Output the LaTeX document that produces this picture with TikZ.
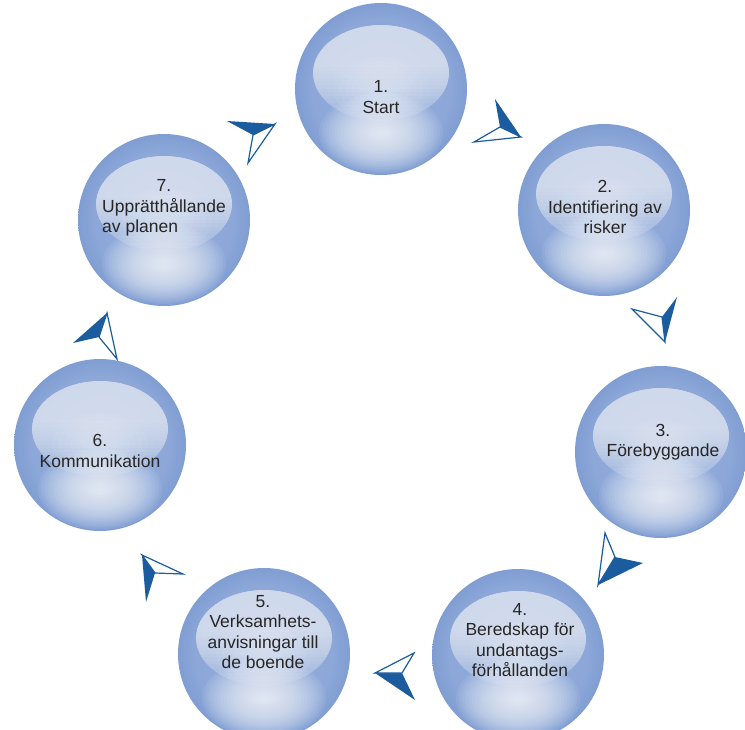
\documentclass[tikz,border=0pt]{standalone}
\usepackage{fontspec}
\setmainfont{Liberation Sans}
\definecolor{arrowblue}{HTML}{1B5C9E}
\definecolor{sEdge}{HTML}{4569AC}
\definecolor{sOut}{HTML}{4C73B6}
\definecolor{sMid2}{HTML}{5A7FC0}
\definecolor{sMid}{HTML}{7090CB}
\definecolor{sIn}{HTML}{8CA7D8}
\definecolor{sCore}{HTML}{97B0DD}
\definecolor{txt}{HTML}{262626}
\pgfdeclareradialshading{spherebase}{\pgfpoint{0bp}{0bp}}{color(0bp)=(sCore); color(20bp)=(sIn); color(32bp)=(sMid); color(42bp)=(sMid2); color(48bp)=(sOut); color(50bp)=(sEdge)}
\newcommand\arrowmark[4]{%
  \fill[arrowblue] #1 -- #2 -- #3 -- cycle;
  \draw[arrowblue, line width=1.2pt, line join=miter, fill=white] #1 -- #3 -- #4 -- cycle;}
\begin{document}
\begin{tikzpicture}[x=1pt, y=-1pt,
  sphere/.style={circle, minimum size=172pt, inner sep=0pt, shading=spherebase,
    path picture={
      \begin{scope}[shift={(path picture bounding box.center)}]
        \foreach \k in {1,...,20} {\fill[white, opacity=0.07] (0,44) ellipse [x radius={3.1*\k}, y radius={2*\k}];}
        \begin{scope}
          \clip (0,-16) ellipse [x radius=68, y radius=48];
          \foreach \k in {0,...,15} {\fill[white, opacity=0.058] (-70,-70) rectangle (70,{-22+\k*3.6});}
        \end{scope}
        \begin{scope}
          \clip (0,-16) ellipse [x radius=68, y radius=48];
          \foreach \k in {1,...,8} {\fill[white, opacity=0.05] (0,0) ellipse [x radius={6*\k}, y radius={4*\k}];}
        \end{scope}
      \end{scope}}},
  lbl/.style={align=center, text=txt, font=\fontsize{17.5}{20.5}\selectfont, inner sep=0pt}]
\fill[white] (0,0) rectangle (745,729);
\useasboundingbox (0,0) rectangle (745,729);

\node[sphere] (s1) at (381,89) {};
\node[sphere] (s2) at (604,210) {};
\node[sphere] (s3) at (661,452) {};
\node[sphere] (s4) at (518,655) {};
\node[sphere] (s5) at (264,654) {};
\node[sphere] (s6) at (100,445) {};
\node[sphere] (s7) at (164,220) {};

\node[lbl] (t1) at (381,97) {1.\\Start};
\node[lbl] (t2) at (605,207) {2.\\Identifiering av\\risker};
\node[lbl] (t3) at (663,442) {3.\\Förebyggande};
\node[lbl] (t4) at (520,640) {4.\\Beredskap för\\undantags-\\förhållanden};
\node[lbl] (t5) at (263,632) {5.\\Verksamhets-\\anvisningar till\\de boende};
\node[lbl] (t6) at (100,451) {6.\\Kommunikation};
\node[lbl] (t7) at (164,208) {\begin{tabular}{@{}l@{}}\multicolumn{1}{@{}c@{}}{7.}\\Upprätthållande\\av planen\end{tabular}};

\arrowmark{(521,137)}{(495,99)}{(500,127)}{(474,142)}
\arrowmark{(665,342)}{(677,297)}{(662,317)}{(632,309)}
\arrowmark{(598,585)}{(643,563)}{(615,557)}{(605,533)}
\arrowmark{(375,673)}{(415,700)}{(402,673)}{(414,653)}
\arrowmark{(142,555)}{(146,602)}{(155,573)}{(183,574)}
\arrowmark{(107,313)}{(73,343)}{(99,337)}{(117,359)}
\arrowmark{(275,124)}{(227,121)}{(253,135)}{(248,163)}
\end{tikzpicture}
\end{document}
